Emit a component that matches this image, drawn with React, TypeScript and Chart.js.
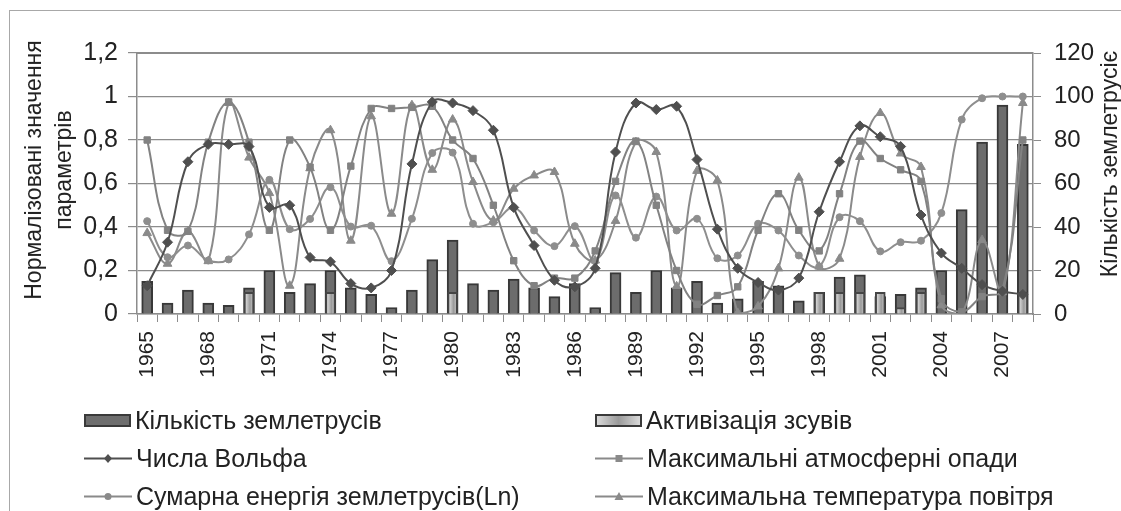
import React, { useEffect, useRef } from 'react';
import { Chart, registerables } from 'chart.js';

Chart.register(...registerables);

const years = [
  '1965', '1966', '1967', '1968', '1969', '1970', '1971', '1972', '1973', '1974', '1975',
  '1976', '1977', '1978', '1979', '1980', '1981', '1982', '1983', '1984', '1985', '1986',
  '1987', '1988', '1989', '1990', '1991', '1992', '1993', '1994', '1995', '1996', '1997',
  '1998', '1999', '2000', '2001', '2002', '2003', '2004', '2005', '2006', '2007', '2008',
];

// Кількість землетрусів (right axis)
const earthquakes = [
  15, 5, 11, 5, 4, 12, 20, 10, 14, 20, 12, 9,
  3, 11, 25, 34, 14, 11, 16, 12, 8, 14, 3, 19,
  10, 20, 12, 15, 5, 7, 15, 13, 6, 10, 17, 18,
  8, 9, 12, 20, 48, 79, 96, 78,
];

// Активізація зсувів (right axis)
const landslides = [
  null, null, null, null, null, 10, null, null, null, 10, null, null,
  null, null, null, 10, null, null, null, null, null, null, null, null,
  null, null, null, null, null, null, null, null, null, 10, 10, 10,
  10, 3, 10, null, null, null, null, 10,
];

// Числа Вольфа
const wolf = [
  0.13, 0.33, 0.70, 0.78, 0.78, 0.77, 0.49, 0.50, 0.26, 0.24, 0.14, 0.12,
  0.20, 0.69, 0.975, 0.97, 0.935, 0.845, 0.49, 0.315, 0.155, 0.125, 0.21, 0.745,
  0.97, 0.94, 0.955, 0.71, 0.39, 0.21, 0.145, 0.11, 0.165, 0.47, 0.70, 0.865,
  0.815, 0.77, 0.455, 0.28, 0.21, 0.135, 0.105, 0.09,
];

// Максимальні атмосферні опади
const precipitation = [
  0.80, 0.385, 0.38, 0.79, 0.975, 0.79, 0.385, 0.80, 0.675, 0.385, 0.68, 0.945,
  0.945, 0.95, 0.955, 0.80, 0.715, 0.50, 0.245, 0.13, 0.165, 0.165, 0.29, 0.61,
  0.795, 0.50, 0.20, 0.045, 0.085, 0.125, 0.385, 0.553, 0.385, 0.29, 0.553, 0.795,
  0.715, 0.663, 0.61, 0.07, 0.01, 0.08, 0.11, 0.80,
];

// Сумарна енергія землетрусів(Ln)
const energy = [
  0.427, 0.261, 0.315, 0.246, 0.251, 0.366, 0.617, 0.39, 0.437, 0.583, 0.402, 0.406,
  0.243, 0.438, 0.74, 0.742, 0.415, 0.422, 0.489, 0.384, 0.312, 0.404, 0.243, 0.545,
  0.351, 0.54, 0.384, 0.438, 0.256, 0.269, 0.415, 0.384, 0.269, 0.218, 0.445, 0.427,
  0.288, 0.33, 0.337, 0.464, 0.894, 0.992, 1.0, 1.0,
];

// Максимальна температура повітря
const temperature = [
  0.372, 0.231, 0.38, 0.243, 0.97, 0.719, 0.556, 0.13, 0.67, 0.845, 0.337, 0.909,
  0.461, 0.96, 0.663, 0.894, 0.607, 0.43, 0.576, 0.637, 0.653, 0.323, 0.246, 0.428,
  0.79, 0.745, 0.127, 0.658, 0.614, 0.005, 0.035, 0.21, 0.627, 0.218, 0.254, 0.722,
  0.924, 0.738, 0.676, 0.04, 0.0, 0.34, 0.1, 0.97,
];

const leftTicksMax = 1.2;
const rightTicksMax = 120;

const FONT = "'Liberation Sans', Arial, sans-serif";
const WOLF_C = '#4f4f4f';
const GRAY_C = '#8a8a8a';

const lineDs = (label: string, data: number[], color: string, style: string, r: number, order: number) => ({
  type: 'line' as const,
  label,
  data,
  yAxisID: 'y',
  borderColor: color,
  backgroundColor: color,
  pointBackgroundColor: color,
  pointBorderColor: color,
  pointStyle: style,
  pointRadius: r,
  pointBorderWidth: 1,
  borderWidth: 2,
  tension: 0.4,
  order,
});

function LegendLine({ marker, color }: { marker: string; color: string }) {
  let m: any = null;
  if (marker === 'diamond') m = <polygon points="24,2 28,6.5 24,11 20,6.5" fill={color} />;
  if (marker === 'square') m = <rect x={20.5} y={3} width={7} height={7} fill={color} />;
  if (marker === 'circle') m = <circle cx={24} cy={6.5} r={3.5} fill={color} />;
  if (marker === 'triangle') m = <polygon points="24,2 28.5,10 19.5,10" fill={color} />;
  return (
    <svg width={48} height={13} style={{ display: 'block' }}>
      <line x1={0} y1={6.5} x2={48} y2={6.5} stroke={color} strokeWidth={2} />
      {m}
    </svg>
  );
}

function LegendBar({ light }: { light: boolean }) {
  return (
    <svg width={47} height={13} style={{ display: 'block' }}>
      <defs>
        <linearGradient id="lg" x1="0" x2="1" y1="0" y2="0">
          <stop offset="0" stopColor="#dcdcdc" />
          <stop offset="0.5" stopColor="#9a9a9a" />
          <stop offset="1" stopColor="#dcdcdc" />
        </linearGradient>
      </defs>
      <rect x={1} y={1} width={45} height={11} fill={light ? 'url(#lg)' : '#6e6e6e'} stroke="#3a3a3a" strokeWidth={2} />
    </svg>
  );
}

const legendItems = [
  { text: 'Кількість землетрусів', x: 84, y: 420, kind: 'bar', light: false },
  { text: 'Активізація зсувів', x: 595, y: 420, kind: 'bar', light: true },
  { text: 'Числа Вольфа', x: 84, y: 458, kind: 'line', marker: 'diamond', color: WOLF_C },
  { text: 'Максимальні атмосферні опади', x: 595, y: 458, kind: 'line', marker: 'square', color: GRAY_C },
  { text: 'Сумарна енергія землетрусів(Ln)', x: 84, y: 496, kind: 'line', marker: 'circle', color: GRAY_C },
  { text: 'Максимальна температура повітря', x: 595, y: 496, kind: 'line', marker: 'triangle', color: GRAY_C },
];

export default function App() {
  const ref = useRef<HTMLCanvasElement>(null);

  useEffect(() => {
    const canvas = ref.current;
    if (!canvas) return;
    const chart = new Chart(canvas, {
      type: 'bar',
      data: {
        labels: years,
        datasets: [
          lineDs('Числа Вольфа', wolf, WOLF_C, 'rectRot', 5, 1),
          lineDs('Максимальні атмосферні опади', precipitation, '#828282', 'rect', 4.5, 2),
          lineDs('Сумарна енергія землетрусів(Ln)', energy, '#8e8e8e', 'circle', 3.5, 3),
          lineDs('Максимальна температура повітря', temperature, '#8a8a8a', 'triangle', 5, 4),
          {
            type: 'bar',
            label: 'Активізація зсувів',
            data: landslides as any,
            yAxisID: 'y1',
            grouped: false,
            barThickness: 10,
            borderColor: '#454545',
            borderWidth: 2,
            backgroundColor: (c: any) => {
              const ch = c.chart;
              const xs = ch.scales && ch.scales.x;
              if (!xs || c.dataIndex == null) return '#b4b4b4';
              const cx = xs.getPixelForValue(c.dataIndex) + 1;
              if (!Number.isFinite(cx)) return '#b4b4b4';
              const g = ch.ctx.createLinearGradient(cx - 5, 0, cx + 5, 0);
              g.addColorStop(0, '#e2e2e2');
              g.addColorStop(0.5, '#9a9a9a');
              g.addColorStop(1, '#e2e2e2');
              return g;
            },
            order: 8,
          } as any,
          {
            type: 'bar',
            label: 'Кількість землетрусів',
            data: earthquakes,
            yAxisID: 'y1',
            grouped: false,
            barThickness: 11,
            backgroundColor: '#6c6c6c',
            borderColor: '#383838',
            borderWidth: 2,
            order: 9,
          } as any,
        ],
      },
      options: {
        responsive: false,
        maintainAspectRatio: false,
        animation: false,
        layout: { padding: { top: 53, left: 0, right: 0, bottom: 0 } },
        plugins: { legend: { display: false }, tooltip: { enabled: false } },
        scales: {
          x: {
            offset: true,
            grid: { display: true, drawOnChartArea: false, offset: true, color: '#8c8c8c', tickLength: 8 },
            border: { display: true, color: '#8c8c8c', width: 1.5 },
            ticks: {
              autoSkip: false,
              minRotation: 90,
              maxRotation: 90,
              padding: 9,
              color: '#222',
              font: { family: FONT, size: 21 },
              callback: (_v: any, i: number) => (i % 3 === 0 ? years[i] : ''),
            },
            afterFit: (s: any) => { s.height = 197; },
          },
          y: {
            position: 'left',
            min: 0,
            max: leftTicksMax,
            grid: { color: '#8c8c8c', lineWidth: 1.2, tickLength: 9 },
            border: { display: true, color: '#8c8c8c', width: 1.5 },
            ticks: {
              stepSize: 0.2,
              padding: 10,
              color: '#222',
              font: { family: FONT, size: 25 },
              callback: (v: any) => String(Math.round(Number(v) * 10) / 10).replace('.', ','),
            },
            afterFit: (s: any) => { s.width = 137; },
          },
          y1: {
            position: 'right',
            min: 0,
            max: rightTicksMax,
            grid: { drawOnChartArea: false, color: '#8c8c8c', tickLength: 8 },
            border: { display: true, color: '#8c8c8c', width: 1.5 },
            ticks: {
              stepSize: 20,
              padding: 13,
              color: '#222',
              font: { family: FONT, size: 24 },
            },
            afterFit: (s: any) => { s.width = 88; },
          },
        },
      },
      plugins: [
        {
          id: 'topBorder',
          afterDraw: (ch: any) => {
            const { ctx, chartArea } = ch;
            ctx.save();
            ctx.strokeStyle = '#8c8c8c';
            ctx.lineWidth = 2;
            ctx.beginPath();
            ctx.moveTo(chartArea.left, chartArea.top);
            ctx.lineTo(chartArea.right, chartArea.top);
            ctx.stroke();
            ctx.restore();
          },
        },
      ],
    } as any);
    return () => chart.destroy();
  }, []);

  return (
    <div style={{ position: 'fixed', left: 0, top: 0, width: 1121, height: 511, overflow: 'hidden', background: '#fff', fontFamily: FONT, color: '#222' }}>
      <div style={{ position: 'absolute', left: 9, top: 10, width: 1300, height: 700, borderLeft: '1px solid #a8a8a8', borderTop: '1px solid #a8a8a8' }} />
      <canvas ref={ref} width={1121} height={511} style={{ position: 'absolute', left: 0, top: 0, width: 1121, height: 511 }} />
      <div style={{ position: 'absolute', left: 48 - 160, top: 170 - 30, width: 320, height: 60, transform: 'rotate(-90deg)', textAlign: 'center', fontSize: 23, lineHeight: '30px', whiteSpace: 'nowrap' }}>
        <div>Нормалізовані значення</div>
        <div>параметрів</div>
      </div>
      <div style={{ position: 'absolute', left: 1109 - 160, top: 164 - 15, width: 320, height: 30, transform: 'rotate(-90deg)', textAlign: 'center', fontSize: 23, lineHeight: '30px', whiteSpace: 'nowrap' }}>
        Кількість землетрусіє
      </div>
      {legendItems.map((it, i) => (
        <div key={i} style={{ position: 'absolute', left: it.x, top: it.y - 15, height: 30, display: 'flex', alignItems: 'center', whiteSpace: 'nowrap' }}>
          {it.kind === 'bar' ? <LegendBar light={!!it.light} /> : <LegendLine marker={it.marker as string} color={it.color as string} />}
          <span style={{ marginLeft: 4, fontSize: 25, lineHeight: '30px' }}>{it.text}</span>
        </div>
      ))}
    </div>
  );
}
